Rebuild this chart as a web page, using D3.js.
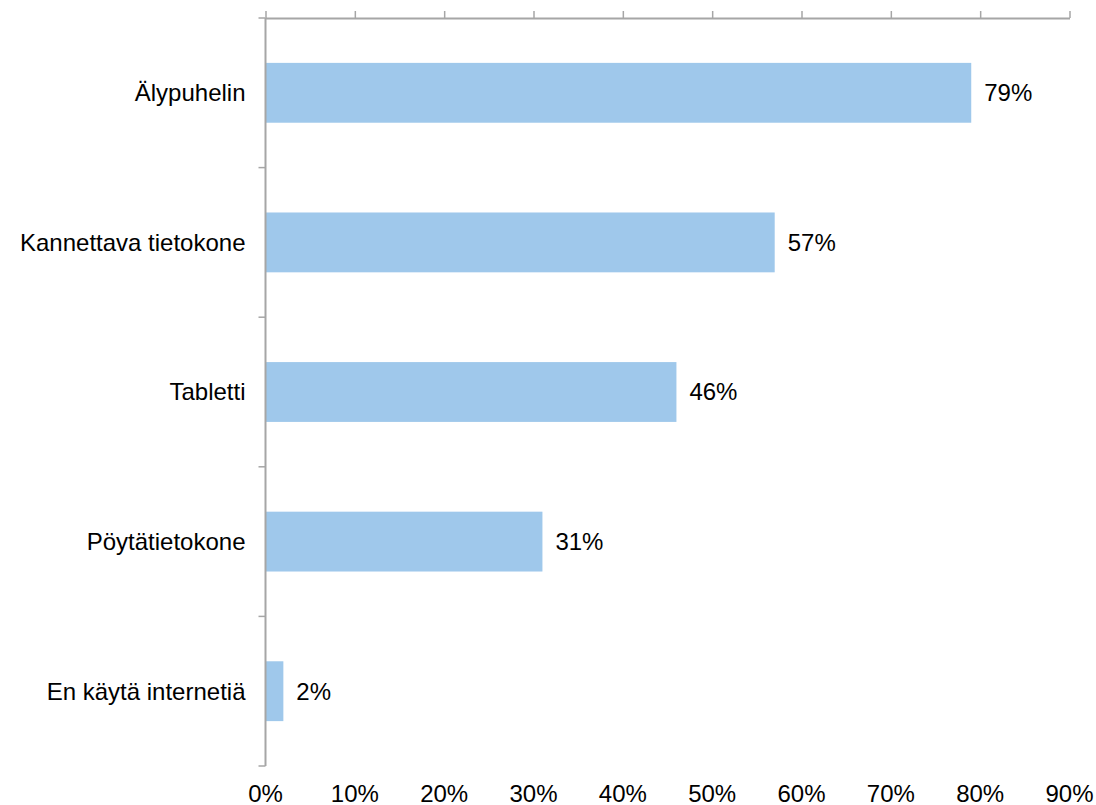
<!DOCTYPE html>
<html>
<head>
<meta charset="utf-8">
<script src="https://cdn.jsdelivr.net/npm/d3@7"></script>
<style>
  body { margin: 0; background: #fff; }
  text { font-family: "Liberation Sans", Arial, sans-serif; fill: #000; }
</style>
</head>
<body>
<script>
// Data
var categories = ["Älypuhelin", "Kannettava tietokone", "Tabletti", "Pöytätietokone", "En käytä internetiä"];
var values = [79, 57, 46, 31, 2];
var tickValues = [0, 10, 20, 30, 40, 50, 60, 70, 80, 90];

var svgWidth = 1096;
var svgHeight = 805;

var margin = { top: 18, right: 27, bottom: 39, left: 265.5 };
var chartWidth = 1069.5 - margin.left;
var chartHeight = 766 - margin.top;

var svg = d3.select("body")
  .append("svg")
  .attr("width", svgWidth)
  .attr("height", svgHeight)
  .style("display", "block");

var chartGroup = svg.append("g")
  .attr("transform", `translate(${margin.left}, ${margin.top})`);

var xScale = d3.scaleLinear()
  .domain([0, 90])
  .range([0, chartWidth]);

var yBand = d3.scaleBand()
  .domain(categories)
  .range([0, chartHeight])
  .paddingInner(0.6)
  .paddingOuter(0.3);

var axisColor = "#a6a6a6";
var fontSize = "24px";

// bars
chartGroup.selectAll("rect.bar")
  .data(values)
  .enter()
  .append("rect")
  .attr("class", "bar")
  .attr("x", 0)
  .attr("y", (d, i) => yBand(categories[i]))
  .attr("width", d => xScale(d))
  .attr("height", yBand.bandwidth())
  .attr("fill", "#9fc8eb");

// value labels
chartGroup.selectAll("text.val")
  .data(values)
  .enter()
  .append("text")
  .attr("class", "val")
  .attr("x", d => xScale(d) + 13)
  .attr("y", (d, i) => yBand(categories[i]) + yBand.bandwidth() / 2)
  .attr("dy", "0.35em")
  .style("font-size", fontSize)
  .text(d => d + "%");

// top axis: line and ticks, no labels there
var topAxis = d3.axisTop(xScale)
  .tickValues(tickValues)
  .tickSize(7)
  .tickSizeOuter(0)
  .tickFormat("");

var gTop = chartGroup.append("g").call(topAxis);
gTop.select(".domain").attr("stroke", axisColor).attr("stroke-width", 2);
gTop.selectAll(".tick line").attr("stroke", axisColor).attr("stroke-width", 1.5);

// tick labels at the bottom
chartGroup.selectAll("text.xlab")
  .data(tickValues)
  .enter()
  .append("text")
  .attr("class", "xlab")
  .attr("x", d => xScale(d))
  .attr("y", chartHeight + 36)
  .attr("text-anchor", "middle")
  .style("font-size", fontSize)
  .text(d => d + "%");

// left axis with ticks at the category boundaries
var step = chartHeight / categories.length;
var boundaries = d3.range(categories.length + 1).map(i => i * step);

chartGroup.append("line")
  .attr("x1", 0).attr("x2", 0)
  .attr("y1", 0).attr("y2", chartHeight)
  .attr("stroke", axisColor)
  .attr("stroke-width", 2);

chartGroup.selectAll("line.ytick")
  .data(boundaries)
  .enter()
  .append("line")
  .attr("class", "ytick")
  .attr("x1", -7).attr("x2", 0)
  .attr("y1", d => d).attr("y2", d => d)
  .attr("stroke", axisColor)
  .attr("stroke-width", 1.5);

// category labels
chartGroup.selectAll("text.cat")
  .data(categories)
  .enter()
  .append("text")
  .attr("class", "cat")
  .attr("x", -20)
  .attr("y", d => yBand(d) + yBand.bandwidth() / 2)
  .attr("dy", "0.35em")
  .attr("text-anchor", "end")
  .style("font-size", fontSize)
  .text(d => d);
</script>
</body>
</html>
